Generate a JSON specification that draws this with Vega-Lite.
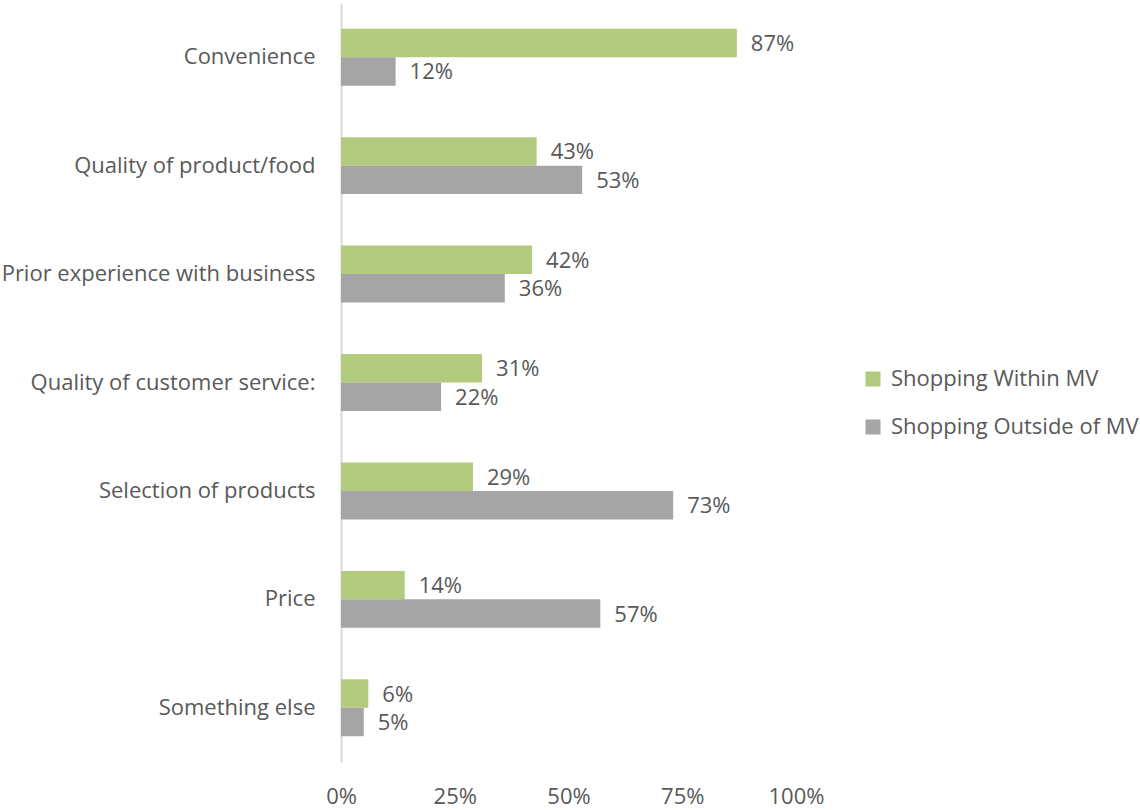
{
  "$schema": "https://vega.github.io/schema/vega-lite/v6.json",
  "width": 455,
  "height": 759,
  "autosize": {"type": "none"},
  "padding": {"left": 341, "top": 3, "right": 344, "bottom": 48},
  "background": "white",
  "config": {
    "font": "Open Sans",
    "view": {"stroke": null}
  },
  "data": {
    "values": [
      {"reason": "Convenience", "series": "Shopping Within MV", "value": 0.87},
      {"reason": "Convenience", "series": "Shopping Outside of MV", "value": 0.12},
      {"reason": "Quality of product/food", "series": "Shopping Within MV", "value": 0.43},
      {"reason": "Quality of product/food", "series": "Shopping Outside of MV", "value": 0.53},
      {"reason": "Prior experience with business", "series": "Shopping Within MV", "value": 0.42},
      {"reason": "Prior experience with business", "series": "Shopping Outside of MV", "value": 0.36},
      {"reason": "Quality of customer service:", "series": "Shopping Within MV", "value": 0.31},
      {"reason": "Quality of customer service:", "series": "Shopping Outside of MV", "value": 0.22},
      {"reason": "Selection of products", "series": "Shopping Within MV", "value": 0.29},
      {"reason": "Selection of products", "series": "Shopping Outside of MV", "value": 0.73},
      {"reason": "Price", "series": "Shopping Within MV", "value": 0.14},
      {"reason": "Price", "series": "Shopping Outside of MV", "value": 0.57},
      {"reason": "Something else", "series": "Shopping Within MV", "value": 0.06},
      {"reason": "Something else", "series": "Shopping Outside of MV", "value": 0.05}
    ]
  },
  "encoding": {
    "y": {
      "field": "reason",
      "type": "nominal",
      "sort": null,
      "scale": {"paddingInner": 0.475, "paddingOuter": 0.2375},
      "axis": {
        "title": null,
        "ticks": false,
        "domain": true,
        "domainColor": "#d9d9d9",
        "domainWidth": 2,
        "labelFontSize": 22,
        "labelColor": "#595959",
        "labelPadding": 26,
        "labelLimit": 400
      }
    },
    "yOffset": {
      "field": "series",
      "type": "nominal",
      "sort": ["Shopping Within MV", "Shopping Outside of MV"],
      "scale": {"paddingInner": 0, "paddingOuter": 0}
    },
    "x": {
      "field": "value",
      "type": "quantitative",
      "scale": {"domain": [0, 1], "nice": false},
      "axis": {
        "title": null,
        "format": ".0%",
        "values": [0, 0.25, 0.5, 0.75, 1],
        "grid": false,
        "domain": false,
        "ticks": false,
        "labelFontSize": 22,
        "labelColor": "#595959",
        "labelPadding": 24,
        "labelFlush": false
      }
    }
  },
  "layer": [
    {
      "mark": {"type": "bar"},
      "encoding": {
        "color": {
          "field": "series",
          "type": "nominal",
          "sort": ["Shopping Within MV", "Shopping Outside of MV"],
          "scale": {"domain": ["Shopping Within MV", "Shopping Outside of MV"], "range": ["#b3cb7e", "#a5a5a5"]},
          "legend": {
            "title": null,
            "orient": "none",
            "legendX": 521,
            "legendY": 365,
            "symbolType": "square",
            "symbolSize": 225,
            "symbolStrokeWidth": 0,
            "labelFontSize": 22,
            "labelColor": "#595959",
            "labelOffset": 7,
            "rowPadding": 26,
            "labelLimit": 400
          }
        }
      }
    },
    {
      "mark": {"type": "text", "align": "left", "baseline": "middle", "dx": 14, "dy": 1, "fontSize": 22, "color": "#595959"},
      "encoding": {
        "text": {"field": "value", "type": "quantitative", "format": ".0%"}
      }
    }
  ]
}
